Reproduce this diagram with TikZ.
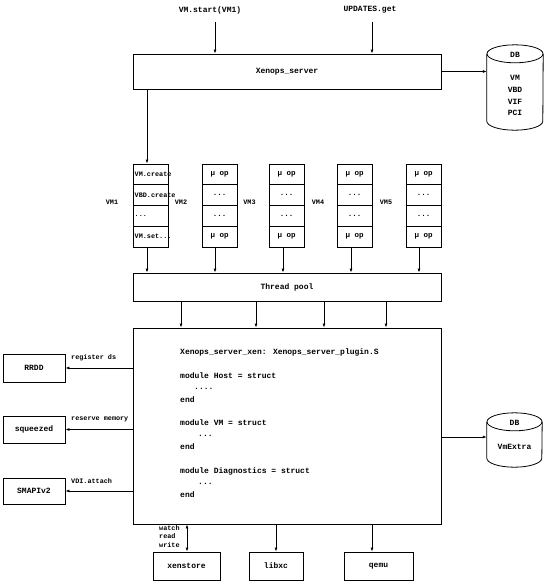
\documentclass[tikz,border=0pt]{standalone}
\usepackage{fontspec}
\newfontfamily\mono{Liberation Mono}
\usetikzlibrary{arrows.meta}
\begin{document}
\begin{tikzpicture}[x=1pt,y=-1pt,
  every node/.style={font=\mono\bfseries\fontsize{8}{9.6}\selectfont},
  box/.style={draw, line width=0.8pt, inner sep=0pt},
  small/.style={font=\mono\bfseries\fontsize{6.8}{8.5}\selectfont},
  mid/.style={font=\mono\bfseries\fontsize{7.5}{9}\selectfont},
  ln/.style={line width=0.8pt},
  arr/.style={line width=0.8pt, -{Latex[length=4pt,width=3pt]}},
  darr/.style={line width=0.8pt, {Latex[length=4pt,width=3pt]}-{Latex[length=4pt,width=3pt]}}]
\useasboundingbox (0,0) rectangle (547,587);

% top
\node[box, minimum width=308pt, minimum height=35pt] (xs) at (287,71.5) {Xenops\_server};
\node (l1) at (210,10) {VM.start(VM1)};
\node (l2) at (370,10) {UPDATES.get};
\coordinate (a1) at (215,0);
\coordinate (a2) at (372,0);
\draw[arr] ([yshift=-5pt]l1.south -| a1) -- (xs.north -| a1);
\draw[arr] ([yshift=-5pt]l2.south -| a2) -- (xs.north -| a2);

% DB 1
\node[minimum width=56pt, minimum height=85pt, inner sep=0pt] (db1) at (515,87.5) {};
\draw[ln] ([yshift=-9pt]db1.north west) -- ([yshift=9pt]db1.south west)
  arc[start angle=180, end angle=360, x radius=28pt, y radius=9pt]
  -- ([yshift=-9pt]db1.north east);
\draw[ln] ([yshift=-9pt]db1.north) ellipse [x radius=28pt, y radius=9pt];
\node (dbt1) at (515,55) {DB};
\node (dbv1) at (515,78) {VM};
\node (dbv2) at (515,90) {VBD};
\node (dbv3) at (515,102) {VIF};
\node (dbv4) at (515,113) {PCI};
\draw[arr] (xs.east) -- (xs.east -| db1.west);

% VM columns
\foreach \i/\x in {1/133,2/202,3/269,4/337,5/406} {
  \foreach \r/\y in {1/174.375,2/195.125,3/215.875,4/236.625} {
    \node[box, minimum width=35pt, minimum height=20.75pt] (c\i\r) at (\x+17.5,\y) {};
  }
}
\node[small, anchor=west, inner sep=0pt] (t11) at (134.5,174.4) {VM.create};
\node[small, anchor=west, inner sep=0pt] (t12) at (134.5,195.1) {VBD.create};
\node[small, anchor=west, inner sep=0pt] (t13) at (134.5,215.9) {...};
\node[small, anchor=west, inner sep=0pt] (t14) at (134.5,236.6) {VM.set...};
\foreach \i in {2,3,4,5} {
  \node[mid] (t\i1) at (c\i1) {μ op};
  \node[mid] (t\i2) at (c\i2) {...};
  \node[mid] (t\i3) at (c\i3) {...};
  \node[mid] (t\i4) at (c\i4) {μ op};
}
\node[small] (v1) at (112,202) {VM1};
\node[small] (v2) at (181,202) {VM2};
\node[small] (v3) at (249.5,202) {VM3};
\node[small] (v4) at (318,202) {VM4};
\node[small] (v5) at (386,202) {VM5};

\coordinate (k1) at (147,0);
\coordinate (k2) at (215,0);
\coordinate (k3) at (283,0);
\coordinate (k4) at (351,0);
\coordinate (k5) at (419,0);
\draw[arr] (xs.south -| k1) -- (c11.north -| k1);

% thread pool
\node[box, minimum width=308pt, minimum height=28pt] (tp) at (287,287) {Thread pool};
\foreach \i in {1,...,5} {
  \draw[arr] (c\i4.south -| k\i) -- (tp.north -| k\i);
}

% main box
\node[box, minimum width=308pt, minimum height=196pt] (main) at (287,426) {};
\foreach \n/\x in {1/181,2/256,3/324,4/386} {
  \coordinate (m\n) at (\x,0);
  \draw[arr] (tp.south -| m\n) -- (main.north -| m\n);
}
\node[anchor=west, inner sep=0pt] (x1) at (180,352) {Xenops\_server\_xen: Xenops\_server\_plugin.S};
\node[anchor=west, inner sep=0pt] (x2) at (180,376) {module Host = struct};
\node[anchor=west, inner sep=0pt] (x3) at (194,389) {....};
\node[anchor=west, inner sep=0pt] (x4) at (180,400) {end};
\node[anchor=west, inner sep=0pt] (x5) at (180,423) {module VM = struct};
\node[anchor=west, inner sep=0pt] (x6) at (198,436) {...};
\node[anchor=west, inner sep=0pt] (x7) at (180,447) {end};
\node[anchor=west, inner sep=0pt] (x8) at (180,471) {module Diagnostics = struct};
\node[anchor=west, inner sep=0pt] (x9) at (198,484) {...};
\node[anchor=west, inner sep=0pt] (x10) at (180,495) {end};

% left boxes
\node[box, minimum width=62pt, minimum height=28pt] (rrdd) at (34,368) {RRDD};
\node[box, minimum width=62pt, minimum height=27pt] (sq) at (34,429.5) {squeezed};
\node[box, minimum width=62pt, minimum height=26pt] (smapi) at (34,491) {SMAPIv2};
\draw[arr] (main.west |- rrdd) -- (rrdd.east);
\draw[arr] (main.west |- sq) -- (sq.east);
\draw[arr] (main.west |- smapi) -- (smapi.east);
\node[small, anchor=west, inner sep=0pt] (lr) at (71,358) {register ds};
\node[small, anchor=west, inner sep=0pt] (ls) at (71,419) {reserve memory};
\node[small, anchor=west, inner sep=0pt] (lv) at (71,481) {VDI.attach};

% DB 2
\node[minimum width=55pt, minimum height=54pt, inner sep=0pt] (db2) at (514.5,440) {};
\draw[ln] ([yshift=-9pt]db2.north west) -- ([yshift=9pt]db2.south west)
  arc[start angle=180, end angle=360, x radius=27.5pt, y radius=9pt]
  -- ([yshift=-9pt]db2.north east);
\draw[ln] ([yshift=-9pt]db2.north) ellipse [x radius=27.5pt, y radius=9pt];
\node (dbt2) at (514.5,423) {DB};
\node (dbx2) at (514.5,447) {VmExtra};
\coordinate (e1) at (0,437);
\draw[arr] (main.east |- e1) -- (db2.west |- e1);

% bottom boxes
\node[box, minimum width=67pt, minimum height=28pt] (xst) at (186.5,566) {xenstore};
\node[box, minimum width=54pt, minimum height=28pt] (lxc) at (276,566) {libxc};
\node[box, minimum width=69pt, minimum height=28pt] (qemu) at (378.5,566) {qemu};
\coordinate (b1) at (187,0);
\coordinate (b2) at (276,0);
\coordinate (b3) at (372,0);
\draw[darr] (main.south -| b1) -- (xst.north -| b1);
\draw[arr] (main.south -| b2) -- (lxc.north -| b2);
\draw[arr] (main.south -| b3) -- (qemu.north -| b3);
\node[small, anchor=north west, align=left, inner sep=0pt] (wrw) at (159,525) {watch\\read\\write};
\end{tikzpicture}
\end{document}
